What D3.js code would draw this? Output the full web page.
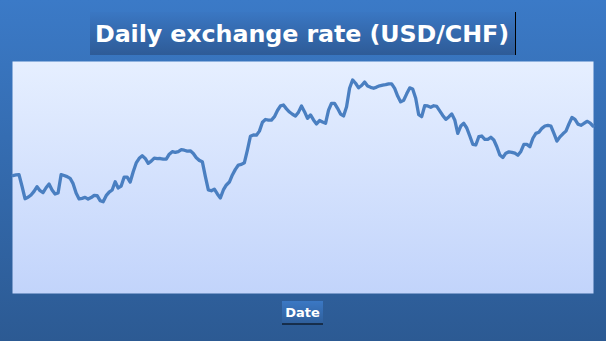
<!DOCTYPE html>
<html>
<head>
<meta charset="utf-8">
<script src="https://cdn.jsdelivr.net/npm/d3@7"></script>
<style>
  html, body { margin: 0; padding: 0; overflow: hidden; }
  svg { display: block; }
</style>
</head>
<body>
<script>
// chart texts
var titleText = "Daily exchange rate (USD/CHF)";
var xLabel = "Date";

// value range of the (hidden) y axis
var rateRange = [0.80, 1.00];

// daily USD/CHF rates (left to right)
var rates = [
  0.9017, 0.9022, 0.9024, 0.8925, 0.8818, 0.8830, 0.8850, 0.8881, 0.8921, 0.8887,
  0.8870, 0.8912, 0.8944, 0.8893, 0.8858, 0.8867, 0.9024, 0.9017, 0.9008, 0.8993,
  0.8947, 0.8866, 0.8816, 0.8821, 0.8830, 0.8815, 0.8828, 0.8846, 0.8844, 0.8801,
  0.8792, 0.8844, 0.8874, 0.8893, 0.8964, 0.8910, 0.8927, 0.9004, 0.9004, 0.8961,
  0.9050, 0.9125, 0.9165, 0.9186, 0.9164, 0.9122, 0.9140, 0.9166, 0.9162, 0.9163,
  0.9158, 0.9157, 0.9200, 0.9222, 0.9216, 0.9222, 0.9239, 0.9234, 0.9226, 0.9229,
  0.9206, 0.9169, 0.9147, 0.9136, 0.9009, 0.8893, 0.8886, 0.8900, 0.8859, 0.8824,
  0.8893, 0.8936, 0.8961, 0.9022, 0.9070, 0.9107, 0.9113, 0.9127, 0.9236, 0.9354,
  0.9365, 0.9363, 0.9398, 0.9475, 0.9498, 0.9492, 0.9492, 0.9522, 0.9575, 0.9615,
  0.9622, 0.9589, 0.9562, 0.9543, 0.9527, 0.9561, 0.9614, 0.9565, 0.9508, 0.9537,
  0.9494, 0.9460, 0.9489, 0.9476, 0.9465, 0.9579, 0.9637, 0.9637, 0.9594, 0.9545,
  0.9528, 0.9608, 0.9766, 0.9837, 0.9809, 0.9770, 0.9790, 0.9820, 0.9785, 0.9774,
  0.9766, 0.9776, 0.9787, 0.9793, 0.9797, 0.9804, 0.9804, 0.9765, 0.9699, 0.9649,
  0.9663, 0.9718, 0.9769, 0.9759, 0.9680, 0.9539, 0.9522, 0.9616, 0.9614, 0.9603,
  0.9616, 0.9610, 0.9572, 0.9533, 0.9499, 0.9520, 0.9546, 0.9494, 0.9379, 0.9442,
  0.9465, 0.9425, 0.9356, 0.9285, 0.9279, 0.9350, 0.9356, 0.9328, 0.9328, 0.9345,
  0.9322, 0.9264, 0.9193, 0.9172, 0.9209, 0.9220, 0.9216, 0.9209, 0.9191, 0.9224,
  0.9284, 0.9284, 0.9264, 0.9337, 0.9379, 0.9388, 0.9422, 0.9442, 0.9448, 0.9442,
  0.9379, 0.9312, 0.9349, 0.9375, 0.9398, 0.9460, 0.9515, 0.9499, 0.9458, 0.9448,
  0.9464, 0.9482, 0.9469, 0.9442
];

var w = 606;
var h = 341;
var plot = { x: 12.5, y: 61.5, w: 581, h: 232 };

var svg = d3.select("body")
  .append("svg")
  .attr("width", w)
  .attr("height", h);

var defs = svg.append("defs");

function vGradient(id, top, bottom) {
  var g = defs.append("linearGradient")
    .attr("id", id)
    .attr("x1", 0).attr("y1", 0)
    .attr("x2", 0).attr("y2", 1);
  g.append("stop").attr("offset", "0%").attr("stop-color", top);
  g.append("stop").attr("offset", "100%").attr("stop-color", bottom);
}

vGradient("bg", "#3b7ac7", "#2c5a93");
vGradient("plotBg", "#e6efff", "#c2d4fb");
vGradient("titleBg", "#3a77c3", "#2e5b97");
vGradient("labelBg", "#3b78c4", "#2f5f9b");

// page background
svg.append("rect")
  .attr("width", w)
  .attr("height", h)
  .attr("fill", "url(#bg)");

// plot area
svg.append("rect")
  .attr("x", plot.x)
  .attr("y", plot.y)
  .attr("width", plot.w)
  .attr("height", plot.h)
  .attr("fill", "url(#plotBg)");

// scales
var x = d3.scaleLinear()
  .domain([0, rates.length - 1])
  .range([13, 593]);

var y = d3.scaleLinear()
  .domain(rateRange)
  .range([294, 61]);

var line = d3.line()
  .x(function(d, i) { return x(i); })
  .y(function(d) { return y(d); });

svg.append("path")
  .datum(rates)
  .attr("d", line)
  .attr("fill", "none")
  .attr("stroke", "#4a7fc1")
  .attr("stroke-width", 3.3)
  .attr("stroke-linejoin", "round")
  .attr("stroke-linecap", "round");

// title
svg.append("rect")
  .attr("x", 90)
  .attr("y", 12)
  .attr("width", 425)
  .attr("height", 43)
  .attr("fill", "url(#titleBg)");

svg.append("line")
  .attr("x1", 515.5).attr("x2", 515.5)
  .attr("y1", 12).attr("y2", 55)
  .attr("stroke", "#000")
  .attr("stroke-width", 1);

svg.append("text")
  .attr("x", 95)
  .attr("y", 41.5)
  .attr("fill", "#fff")
  .style("font-family", "DejaVu Sans")
  .style("font-weight", "bold")
  .style("font-size", "23.8px")
  .style("letter-spacing", "-0.1px")
  .text(titleText);

// x axis label
svg.append("rect")
  .attr("x", 282)
  .attr("y", 301)
  .attr("width", 41)
  .attr("height", 22.5)
  .attr("fill", "url(#labelBg)");

svg.append("line")
  .attr("x1", 282).attr("x2", 323)
  .attr("y1", 324).attr("y2", 324)
  .attr("stroke", "#000")
  .attr("stroke-width", 1.2);

svg.append("text")
  .attr("x", 302.5)
  .attr("y", 317)
  .attr("text-anchor", "middle")
  .attr("fill", "#fff")
  .style("font-family", "DejaVu Sans")
  .style("font-weight", "bold")
  .style("font-size", "13px")
  .text(xLabel);
</script>
</body>
</html>
